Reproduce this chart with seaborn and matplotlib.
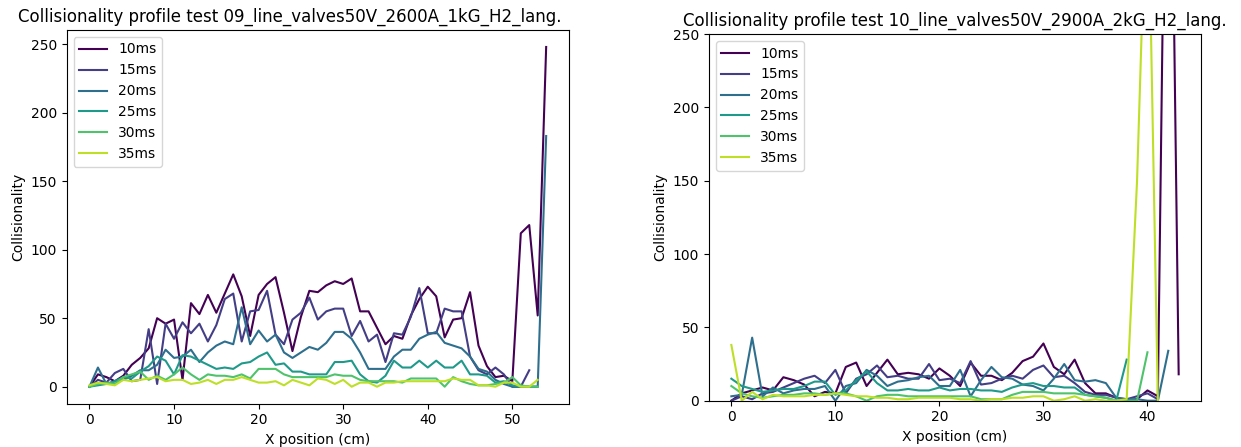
import numpy as np
import pandas as pd
import matplotlib
matplotlib.use("Agg")
import matplotlib.pyplot as plt
import seaborn as sns

# Time slices (legend labels)
times = ["10ms", "15ms", "20ms", "25ms", "30ms", "35ms"]

# Test 09: collisionality vs X position (cm), 1 cm steps starting at 0
t09_10ms = [0, 9, 7, 4, 8, 16, 21, 28, 50, 46, 49, 5, 61, 53, 67, 54, 68, 82, 66, 37,
            67, 75, 80, 54, 26, 51, 70, 69, 74, 77, 75, 79, 55, 55, 43, 31, 37, 35, 52, 64,
            73, 66, 36, 49, 50, 69, 30, 15, 7, 8, 4, 112, 118, 52, 248]
t09_15ms = [0, 5, 3, 10, 13, 4, 5, 42, 2, 46, 35, 47, 39, 46, 33, 45, 64, 68, 33, 55,
            56, 70, 38, 31, 49, 54, 65, 49, 55, 57, 57, 37, 48, 33, 38, 18, 39, 38, 51, 72,
            39, 39, 57, 55, 55, 22, 12, 9, 14, 9, 0, 0, 12]
t09_20ms = [0, 14, 2, 4, 5, 8, 12, 12, 16, 27, 21, 22, 27, 18, 25, 30, 33, 31, 58, 31,
            41, 33, 38, 25, 21, 25, 29, 27, 32, 40, 40, 35, 25, 13, 13, 13, 22, 27, 27, 35,
            38, 40, 32, 30, 28, 22, 13, 11, 5, 2, 0, 0, 0, 0, 183]
t09_25ms = [0, 1, 2, 4, 7, 6, 11, 15, 22, 19, 9, 23, 22, 19, 16, 13, 14, 13, 17, 18,
            22, 25, 16, 17, 11, 11, 9, 9, 9, 18, 18, 19, 9, 4, 3, 8, 19, 14, 14, 19,
            14, 19, 14, 14, 19, 9, 9, 8, 3, 4, 1, 0, 0, 0]
t09_30ms = [0, 2, 3, 2, 7, 9, 11, 5, 8, 5, 9, 14, 9, 5, 9, 8, 8, 7, 9, 6,
            13, 13, 13, 9, 7, 7, 7, 7, 7, 9, 8, 8, 5, 4, 4, 4, 4, 3, 6, 6,
            6, 6, 0, 7, 4, 2, 1, 1, 2, 3, 7, 1, 0, 0]
t09_35ms = [1, 3, 2, 1, 5, 4, 5, 6, 7, 4, 5, 5, 2, 3, 5, 2, 5, 5, 7, 5,
            3, 3, 4, 1, 5, 3, 1, 6, 5, 2, 5, 0, 3, 3, 0, 3, 3, 4, 4, 4,
            4, 4, 4, 6, 5, 5, 1, 1, 0, 3, 3, 0, 0, 5]

# Test 10
t10_10ms = [0, 5, 7, 9, 7, 16, 14, 11, 3, 6, 5, 23, 26, 10, 19, 28, 18, 19, 18, 15,
            22, 17, 10, 26, 17, 17, 14, 19, 27, 30, 39, 23, 18, 28, 12, 5, 5, 2, 0, 1,
            7, 3, 560, 18]
t10_15ms = [0, 3, 1, 5, 6, 9, 12, 15, 17, 12, 21, 5, 15, 18, 24, 16, 17, 15, 15, 25,
            14, 15, 12, 27, 11, 12, 15, 17, 15, 21, 24, 16, 17, 12, 6, 4, 4, 2, 1, 3,
            5, 1]
t10_20ms = [3, 4, 43, 3, 9, 5, 7, 8, 8, 10, 0, 10, 12, 21, 17, 10, 13, 14, 16, 17,
            10, 10, 21, 3, 14, 23, 16, 15, 11, 10, 7, 15, 25, 14, 13, 14, 12, 2, 1, 1,
            0, 0, 34]
t10_25ms = [15, 10, 8, 6, 7, 8, 8, 10, 13, 13, 4, 7, 14, 20, 12, 7, 7, 8, 7, 7,
            9, 7, 8, 8, 7, 7, 6, 9, 11, 12, 10, 10, 9, 9, 4, 3, 2, 0, 28]
t10_30ms = [10, 5, 3, 2, 3, 4, 4, 5, 5, 4, 5, 5, 3, 0, 3, 4, 4, 3, 3, 3,
            3, 3, 3, 3, 1, 1, 1, 4, 6, 6, 6, 5, 5, 5, 4, 3, 2, 0, 0, 0, 33]
t10_35ms = [38, 0, 6, 1, 4, 3, 3, 3, 4, 4, 5, 4, 3, 3, 2, 2, 1, 1, 2, 2,
            2, 2, 1, 1, 0, 1, 1, 2, 2, 3, 3, 0, 1, 3, 0, 1, 0, 0, 1, 150,
            380, 0]

title_09 = "Collisionality profile test 09_line_valves50V_2600A_1kG_H2_lang."
title_10 = "Collisionality profile test 10_line_valves50V_2900A_2kG_H2_lang."


def long_table(series):
    rows = []
    for label, values in zip(times, series):
        for x, v in enumerate(values):
            rows.append({"X position (cm)": x, "Collisionality": v, "time": label})
    return pd.DataFrame(rows)


df09 = long_table([t09_10ms, t09_15ms, t09_20ms, t09_25ms, t09_30ms, t09_35ms])
df10 = long_table([t10_10ms, t10_15ms, t10_20ms, t10_25ms, t10_30ms, t10_35ms])

colors = [matplotlib.colormaps["viridis"](v) for v in np.linspace(0, 0.9, len(times))]
palette = dict(zip(times, colors))

fig = plt.figure(figsize=(12.41, 4.47), dpi=100)
ax1 = fig.add_axes([0.0537, 0.0969, 0.4048, 0.836])
ax2 = fig.add_axes([0.5713, 0.1036, 0.3965, 0.8203])

for ax, df, title in [(ax1, df09, title_09), (ax2, df10, title_10)]:
    sns.lineplot(data=df, x="X position (cm)", y="Collisionality", hue="time",
                 hue_order=times, palette=palette, estimator=None, linewidth=1.5,
                 ax=ax)
    sns.move_legend(ax, "upper left", title=None)
    ax.set_xlabel("X position (cm)")
    ax.set_ylabel("Collisionality")

ax1.set_title(title_09, x=0.444)
ax2.set_title(title_10)
ax2.set_ylim(0, 250)

fig.savefig("out.png", dpi=100)
